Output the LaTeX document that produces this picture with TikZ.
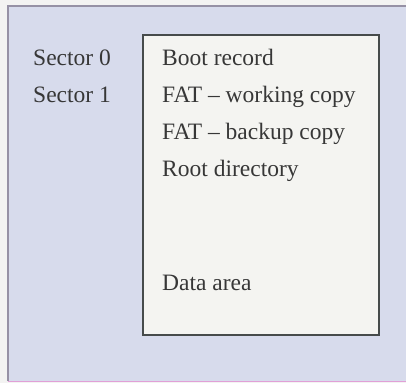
\documentclass[tikz,border=0pt]{standalone}
\usepackage{fontspec}
\setmainfont{Liberation Serif}
\definecolor{panel}{RGB}{215,219,236}
\definecolor{paper}{RGB}{243,243,242}
\definecolor{boxfill}{RGB}{244,244,241}
\definecolor{frame}{RGB}{150,145,165}
\definecolor{edge}{RGB}{70,75,75}
\definecolor{ink}{RGB}{55,55,55}
\definecolor{pinkline}{RGB}{225,160,215}

\tikzset{
    label/.style={anchor=base west, inner sep=0pt, text=ink,
        font=\fontsize{23.5}{28}\selectfont}
}

\begin{document}
\begin{tikzpicture}[x=1pt,y=1pt]
                \useasboundingbox (0,0) rectangle (406,383);
                \fill[paper] (0,0) rectangle (406,383);
                \fill[panel] (8,2) rectangle (406,377);
                \draw[frame, line width=1.2pt] (8,2) -- (8,377) -- (406,377);
                \draw[pinkline, line width=1pt] (8,2) -- (406,2);

                % layout of the disk
                \filldraw[fill=boxfill, draw=edge, line width=1.4pt] (143,48) rectangle (379,348);

                \node[label] (sec0) at (33,317) {Sector 0};
                \node[label] (sec1) at (33,280) {Sector 1};

                \node[label] (boot) at (162,317) {Boot record};
                \node[label] (fatw) at (162,280) {FAT -- working copy};
                \node[label] (fatb) at (162,243) {FAT -- backup copy};
                \node[label] (root) at (162,206) {Root directory};
                \node[label] (data) at (162,93) {Data area};
            \end{tikzpicture}
\end{document}
